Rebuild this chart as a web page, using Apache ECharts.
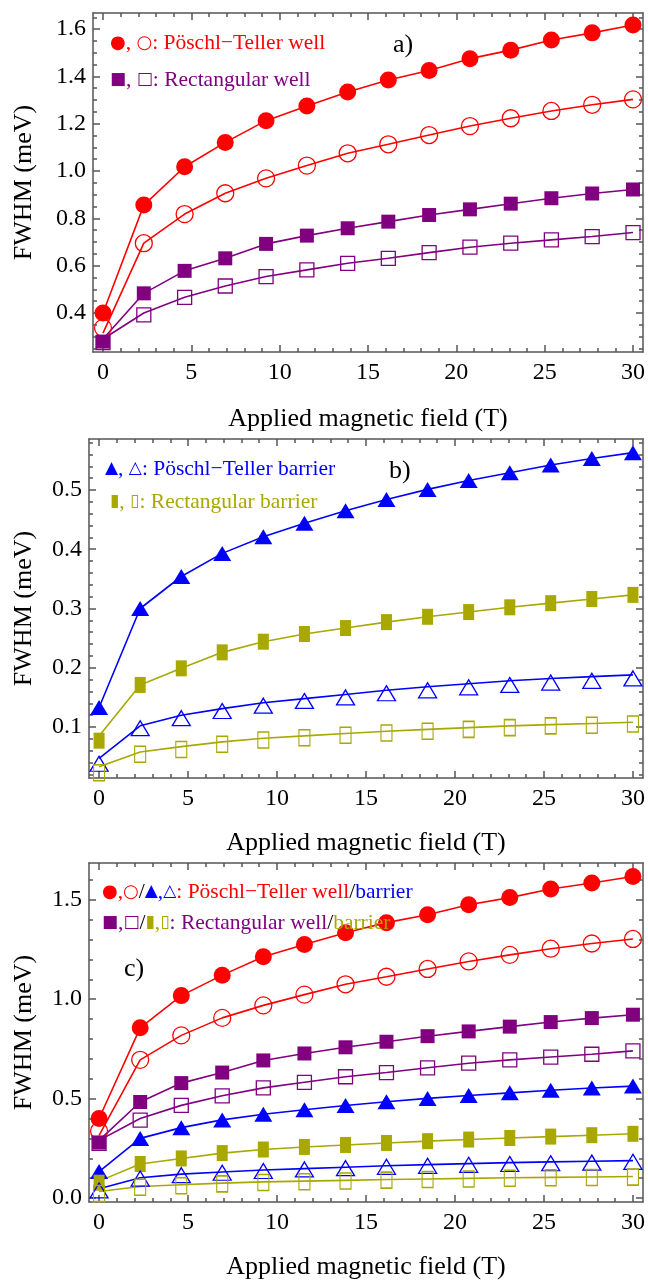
<!DOCTYPE html>
<html>
<head>
<meta charset="utf-8">
<script src="https://cdn.jsdelivr.net/npm/echarts@6/dist/echarts.min.js"></script>
<style>
html,body{margin:0;padding:0;background:#fff;}
#chart{width:648px;height:1281px;}
</style>
</head>
<body>
<div id="chart"></div>
<script>
// ---------- data ----------
const fieldT = [0, 2.31, 4.62, 6.92, 9.23, 11.54, 13.85, 16.15, 18.46, 20.77, 23.08, 25.38, 27.69, 30];

// Pöschl-Teller well (filled circles / open circles)
const ptWellFilled = [0.40, 0.856, 1.018, 1.121, 1.213, 1.275, 1.334, 1.385, 1.425, 1.475, 1.511, 1.554, 1.584, 1.617];
const ptWellOpen   = [0.337, 0.695, 0.818, 0.906, 0.969, 1.023, 1.075, 1.113, 1.152, 1.190, 1.223, 1.254, 1.280, 1.303];
const ptWellOpenCurve = [0.315, 0.695, 0.818, 0.906, 0.969, 1.023, 1.075, 1.113, 1.152, 1.190, 1.223, 1.254, 1.280, 1.303];
// Rectangular well (filled squares / open squares)
const rcWellFilled = [0.279, 0.483, 0.578, 0.631, 0.692, 0.727, 0.758, 0.786, 0.814, 0.838, 0.862, 0.885, 0.905, 0.922];
const rcWellFilledCurve = [0.29, 0.483, 0.578, 0.631, 0.692, 0.727, 0.758, 0.786, 0.814, 0.838, 0.862, 0.885, 0.905, 0.922];
const rcWellOpen   = [0.275, 0.392, 0.466, 0.514, 0.554, 0.582, 0.610, 0.631, 0.655, 0.678, 0.695, 0.709, 0.723, 0.740];
const rcWellOpenCurve = [0.29, 0.400, 0.466, 0.514, 0.554, 0.582, 0.610, 0.631, 0.655, 0.678, 0.695, 0.709, 0.723, 0.740];
// Pöschl-Teller barrier (filled / open triangles)
const ptBarFilled = [0.133, 0.300, 0.354, 0.393, 0.421, 0.444, 0.465, 0.484, 0.501, 0.516, 0.529, 0.542, 0.553, 0.563];
const ptBarOpen   = [0.038, 0.098, 0.115, 0.127, 0.136, 0.144, 0.150, 0.157, 0.162, 0.167, 0.171, 0.175, 0.178, 0.182];
const ptBarOpenCurve = [0.047, 0.102, 0.120, 0.131, 0.141, 0.148, 0.155, 0.162, 0.168, 0.173, 0.178, 0.182, 0.185, 0.188];
// Rectangular barrier (filled / open bars)
const rcBarFilled = [0.077, 0.171, 0.199, 0.226, 0.244, 0.257, 0.267, 0.277, 0.286, 0.294, 0.302, 0.309, 0.316, 0.323];
const rcBarFilledCurve = [0.085, 0.171, 0.199, 0.226, 0.244, 0.257, 0.267, 0.277, 0.286, 0.294, 0.302, 0.309, 0.316, 0.323];
const rcBarOpen   = [0.023, 0.054, 0.062, 0.071, 0.078, 0.082, 0.086, 0.090, 0.093, 0.096, 0.099, 0.102, 0.103, 0.105];
const rcBarOpenCurve = [0.033, 0.058, 0.067, 0.075, 0.081, 0.085, 0.089, 0.093, 0.096, 0.099, 0.102, 0.104, 0.106, 0.108];

// ticks
const xMajorTicks = [0, 5, 10, 15, 20, 25, 30];
const yMajorTicksA = [0.4, 0.6, 0.8, 1.0, 1.2, 1.4, 1.6];
const yMajorTicksB = [0.1, 0.2, 0.3, 0.4, 0.5];
const yMajorTicksC = [0.0, 0.5, 1.0, 1.5];

// ---------- styling ----------
const RED = '#ff0000', PURPLE = '#800080', BLUE = '#0000ff', OLIVE = '#a8a800';
const FRAME = '#555555';
const SERIF = '"Liberation Serif", "DejaVu Serif", serif';
const SYM = '"DejaVu Sans", sans-serif';

function minorTicks(lo, hi, step, majors) {
  const out = [];
  const n = Math.round((hi - lo) / step);
  for (let i = 0; i <= n; i++) {
    const v = +(lo + i * step).toFixed(4);
    if (!majors.some(m => Math.abs(m - v) < 1e-6)) out.push(v);
  }
  return out;
}
const xMinorTicks = minorTicks(0, 30, 1, xMajorTicks);
const yMinorTicksA = minorTicks(0.25, 1.65, 0.05, yMajorTicksA);
const yMinorTicksB = minorTicks(0.02, 0.58, 0.02, yMajorTicksB);
const yMinorTicksC = minorTicks(0.0, 1.6, 0.1, yMajorTicksC);

const grids = [
  {left: 93, right: 5, top: 13, height: 339},
  {left: 89, right: 5, top: 439, height: 339},
  {left: 89, right: 5, top: 863, height: 341}
];
const yRanges = [[0.235, 1.668], [0.014, 0.586], [-0.02, 1.685]];
const yMaj = [yMajorTicksA, yMajorTicksB, yMajorTicksC];
const yMin = [yMinorTicksA, yMinorTicksB, yMinorTicksC];
const yNameGap = [56, 52, 52];
const xNameGap = [54, 52, 52];

const xAxes = [], yAxes = [];
const lineSt = {color: FRAME, width: 1.5};
for (let p = 0; p < 3; p++) {
  ['bottom', 'top'].forEach(pos => {
    [true, false].forEach(isMajor => {
      const main = pos === 'bottom' && isMajor;
      xAxes.push({
        gridIndex: p, type: 'value', position: pos, min: -0.566, max: 30.566,
        axisLine: {show: isMajor, onZero: false, lineStyle: lineSt},
        axisTick: {show: true, inside: true, length: isMajor ? 7 : 4,
                   customValues: isMajor ? xMajorTicks : xMinorTicks, lineStyle: lineSt},
        axisLabel: main ? {show: true, customValues: xMajorTicks, margin: 9,
                   fontFamily: SERIF, fontSize: 24, color: '#000'} : {show: false},
        splitLine: {show: false},
        name: main ? 'Applied magnetic field (T)' : '',
        nameLocation: 'middle', nameGap: xNameGap[p],
        nameTextStyle: {fontFamily: SERIF, fontSize: 26, color: '#000'}
      });
    });
  });
  ['left', 'right'].forEach(pos => {
    [true, false].forEach(isMajor => {
      const main = pos === 'left' && isMajor;
      yAxes.push({
        gridIndex: p, type: 'value', position: pos, min: yRanges[p][0], max: yRanges[p][1],
        axisLine: {show: isMajor, onZero: false, lineStyle: lineSt},
        axisTick: {show: true, inside: true, length: isMajor ? 7 : 4,
                   customValues: isMajor ? yMaj[p] : yMin[p], lineStyle: lineSt},
        axisLabel: main ? {show: true, customValues: yMaj[p], margin: 7,
                   formatter: v => Number(v).toFixed(1),
                   fontFamily: SERIF, fontSize: 24, color: '#000'} : {show: false},
        splitLine: {show: false},
        name: main ? 'FWHM (meV)' : '',
        nameLocation: 'middle', nameGap: yNameGap[p],
        nameTextStyle: {fontFamily: SERIF, fontSize: 26, color: '#000'}
      });
    });
  });
}

function pts(ys) { return fieldT.map((x, i) => [x, ys[i]]); }

const series = [];
function addSet(p, markers, curve, color, symbol, size, filled) {
  series.push({
    type: 'line', xAxisIndex: 4 * p, yAxisIndex: 4 * p, data: pts(curve),
    showSymbol: false, symbol: 'none', lineStyle: {color: color, width: 1.6},
    silent: true, animation: false, z: 2
  });
  series.push({
    type: 'scatter', xAxisIndex: 4 * p, yAxisIndex: 4 * p, data: pts(markers),
    symbol: symbol, symbolSize: size,
    itemStyle: filled ? {color: color, opacity: 1} :
      {color: 'rgba(0,0,0,0)', borderColor: color, borderWidth: 1.3, opacity: 1},
    silent: true, animation: false, z: 3
  });
}
function wellSets(p) {
  addSet(p, ptWellFilled, ptWellFilled, RED, 'circle', 17, true);
  addSet(p, ptWellOpen, ptWellOpenCurve, RED, 'circle', 17, false);
  addSet(p, rcWellOpen, rcWellOpenCurve, PURPLE, 'rect', 14, false);
  addSet(p, rcWellFilled, rcWellFilledCurve, PURPLE, 'rect', 14, true);
}
function barSets(p) {
  addSet(p, ptBarFilled, ptBarFilled, BLUE, 'triangle', [18, 15], true);
  addSet(p, rcBarFilled, rcBarFilledCurve, OLIVE, 'rect', [11, 16], true);
  addSet(p, ptBarOpen, ptBarOpenCurve, BLUE, 'triangle', [18, 15], false);
  addSet(p, rcBarOpen, rcBarOpenCurve, OLIVE, 'rect', [11, 16], false);
}
wellSets(0);
barSets(1);
barSets(2);
wellSets(2);

// ---------- legends ----------
const FS = 21.5, SS = 17;
const rich = {
  r: {fill: RED, fontFamily: SERIF, fontSize: FS},
  p: {fill: PURPLE, fontFamily: SERIF, fontSize: FS},
  b: {fill: BLUE, fontFamily: SERIF, fontSize: FS},
  o: {fill: OLIVE, fontFamily: SERIF, fontSize: FS},
  k: {fill: '#000', fontFamily: SERIF, fontSize: FS},
  rs: {fill: RED, fontFamily: SYM, fontSize: SS + 1},
  ps: {fill: PURPLE, fontFamily: SYM, fontSize: SS},
  bs: {fill: BLUE, fontFamily: SYM, fontSize: SS},
  os: {fill: OLIVE, fontFamily: SYM, fontSize: SS}
};
function txt(x, y, text) {
  return {
    type: 'text', x: x, y: y, z: 100, silent: true,
    style: {text: text, rich: rich, verticalAlign: 'middle', textAlign: 'left',
            fontFamily: SERIF, fontSize: FS, fill: '#000'}
  };
}
function lbl(x, y, s) {
  return {type: 'text', x: x, y: y, z: 100, silent: true,
    style: {text: s, fontFamily: SERIF, fontSize: 26, fill: '#000', verticalAlign: 'middle'}};
}
const graphics = [
  txt(110, 43, '{rs|●}{r|, }{rs|○}{r|: Pöschl−Teller well}'),
  txt(110, 80, '{ps|■}{p|, }{ps|□}{p|: Rectangular well}'),
  lbl(393, 45, 'a)'),
  txt(105, 469, '{bs|▲}{b|, }{bs|△}{b|: Pöschl−Teller barrier}'),
  txt(110, 502, '{os|▮}{o|, }{os|▯}{o|: Rectangular barrier}'),
  lbl(389, 471, 'b)'),
  txt(102, 892, '{rs|●}{r|,}{rs|○}{k|/}{bs|▲}{b|,}{bs|△}{r|: Pöschl−Teller well}{k|/}{b|barrier}'),
  txt(102, 923, '{ps|■}{p|,}{ps|□}{k|/}{os|▮}{o|,}{os|▯}{p|: Rectangular well}{k|/}{o|barrier}'),
  lbl(124, 969, 'c)')
];

const chart = echarts.init(document.getElementById('chart'), null, {renderer: 'canvas'});
chart.setOption({
  animation: false,
  backgroundColor: '#ffffff',
  grid: grids,
  xAxis: xAxes,
  yAxis: yAxes,
  series: series,
  graphic: graphics
});
</script>
</body>
</html>
